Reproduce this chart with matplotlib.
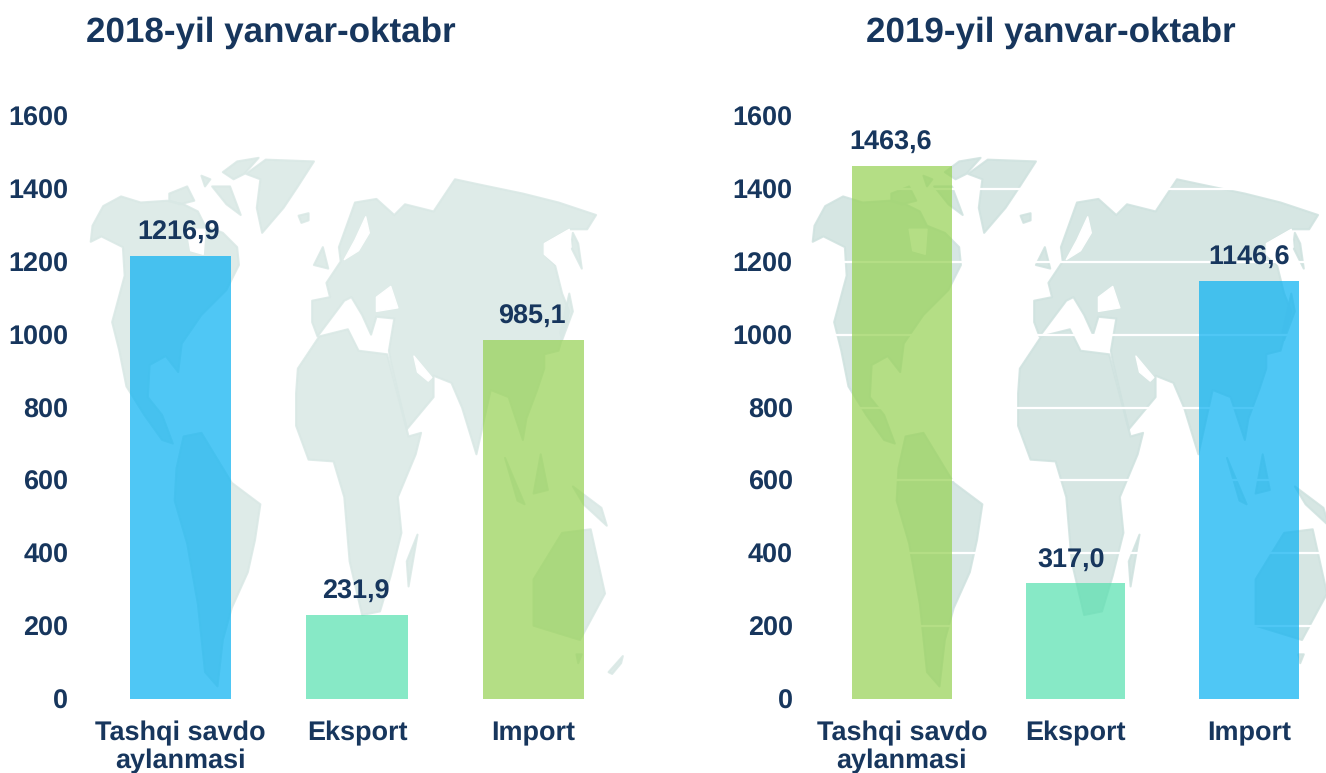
import matplotlib
matplotlib.use('Agg')
import matplotlib.pyplot as plt
from matplotlib.patches import Polygon

plt.rcParams['font.family'] = ['Liberation Sans', 'DejaVu Sans']
plt.rcParams['font.weight'] = 'bold'
plt.rcParams['text.hinting'] = 'no_hinting'
plt.rcParams['text.hinting_factor'] = 1

NAVY = '#17365d'
BLUE = '#05b0f2'
GREEN = '#95d151'
TEAL = '#55e0ae'

categories = ['Tashqi savdo\naylanmasi', 'Eksport', 'Import']
values2018 = [1216.9, 231.9, 985.1]
values2019 = [1463.6, 317.0, 1146.6]
colors2018 = [BLUE, TEAL, GREEN]
colors2019 = [GREEN, TEAL, BLUE]
yticks = [0, 200, 400, 600, 800, 1000, 1200, 1400, 1600]

# background map, rough outlines only (decoration, not data)
land = [
    [(30,285),(35,240),(65,185),(115,158),(170,175),(245,170),(290,180),(330,200),(350,240),(400,260),(440,300),(445,350),(410,420),(340,490),(285,570),(275,650),(240,605),(195,630),(190,720),(230,770),(260,850),(230,840),(180,770),(130,690),(110,590),(90,510),(125,380),(120,300),(60,270)],
    [(400,90),(440,60),(500,50),(460,95),(430,110)],
    [(370,130),(420,130),(450,210),(410,180)],
    [(250,150),(300,130),(320,170),(280,180),(250,170)],
    [(340,100),(365,110),(350,130)],
    [(465,95),(520,55),(655,60),(610,130),(570,190),(510,260),(495,190),(505,110)],
    [(612,212),(640,205),(640,225),(620,232)],
    [(290,830),(340,820),(425,960),(505,1020),(490,1120),(470,1210),(425,1310),(400,1400),(385,1530),(350,1490),(330,1300),(300,1130),(265,1010),(270,920)],
    [(725,300),(770,175),(830,165),(880,210),(910,180),(990,200),(1050,110),(1120,125),(1240,150),(1340,175),(1445,210),(1420,250),(1370,250),(1300,290),(1300,320),(1330,350),(1350,430),(1370,480),(1340,590),(1300,600),(1300,640),(1280,700),(1250,780),(1240,840),(1200,720),(1150,700),(1110,880),(1070,750),(1040,680),(990,660),(990,720),(915,810),(870,620),(865,590),(880,500),(830,495),(815,545),(790,490),(760,440),(740,450),(665,550),(650,510),(650,450),(700,440),(690,400),(730,340)],
    [(1380,260),(1395,290),(1405,360),(1375,300)],
    [(605,710),(610,640),(670,550),(750,530),(780,590),(860,600),(920,830),(955,820),(940,880),(890,1000),(900,1100),(870,1220),(840,1320),(790,1330),(755,1180),(740,1000),(710,900),(640,895),(605,800)],
    [(945,1105),(920,1250),(915,1180)],
    [(655,350),(680,300),(695,360)],
    [(1370,430),(1380,480),(1350,560),(1345,540)],
    [(1190,890),(1245,1020),(1225,1010)],
    [(1290,880),(1310,980),(1270,990)],
    [(1380,970),(1460,1030),(1475,1080),(1410,1020)],
    [(1270,1230),(1350,1100),(1430,1090),(1470,1270),(1400,1400),(1270,1360)],
    [(1390,1440),(1405,1440),(1395,1465)],
    [(1480,1490),(1520,1445),(1515,1465),(1490,1495)],
]
water = [
    [(830,440),(870,410),(890,470),(830,480)],
    [(300,250),(350,250),(345,320),(310,310)],
    [(800,215),(810,260),(780,310),(740,335),(770,280)],
    [(935,605),(985,665),(975,675),(945,650)],
    [(1300,290),(1370,250),(1375,300),(1335,350),(1300,320)],
]

W, H = 1326, 773


def pixelAxes(fig, left, right, top, bottom):
    return fig.add_axes([left / W, 1 - bottom / H, (right - left) / W, (bottom - top) / H])


def drawMap(bg, shift, color):
    for outline in land:
        pts = [(80 + x / 2.8 + shift, 140 + y / 2.8) for x, y in outline]
        bg.add_patch(Polygon(pts, closed=True, facecolor=color, edgecolor=color,
                             linewidth=1.5, joinstyle='round', alpha=0.85))
    for outline in water:
        pts = [(80 + x / 2.8 + shift, 140 + y / 2.8) for x, y in outline]
        bg.add_patch(Polygon(pts, closed=True, facecolor='white', edgecolor='white', linewidth=1, joinstyle='round'))


def plotPanel(ax, values, colors, title, titleX, shifts, grid, tickPad):
    ax.set_facecolor('none')
    bars = ax.bar(range(len(values)), values, width=0.575, color=colors, alpha=0.7, linewidth=0, zorder=3)
    ax.set_xlim(-0.5, 2.5)
    ax.set_ylim(0, 1600)
    ax.set_yticks(yticks)
    ax.set_xticks(range(len(categories)))
    ax.set_xticklabels(categories, linespacing=1.12)
    ax.tick_params(axis='y', length=0, pad=tickPad, labelsize=19.3, labelcolor=NAVY)
    ax.tick_params(axis='x', length=0, pad=16, labelsize=19.3, labelcolor=NAVY)
    for side in ax.spines.values():
        side.set_visible(False)
    if grid:
        ax.grid(axis='y', color='white', linewidth=1.6)
        ax.set_axisbelow(True)
    for bar, val, dx in zip(bars, values, shifts):
        ax.annotate(f'{val:.1f}'.replace('.', ','),
                    (bar.get_x() + bar.get_width() / 2, val),
                    xytext=(dx, 7.5), textcoords='offset points',
                    ha='center', va='bottom', fontsize=19.3, color=NAVY, fontweight='bold')
    ax.figure.text(titleX / W, 1 - 33 / H, title, ha='center', va='center',
                   fontsize=24.9, color=NAVY, fontweight='bold')


fig = plt.figure(figsize=(W / 100, H / 100), dpi=100, facecolor='white')

bg = fig.add_axes([0, 0, 1, 1], zorder=0)
bg.set_xlim(0, W)
bg.set_ylim(H, 0)
bg.axis('off')
drawMap(bg, 0, '#d9e8e5')
drawMap(bg, 722, '#cfe2df')

ax1 = pixelAxes(fig, 92, 622, 116, 699)
ax2 = pixelAxes(fig, 815, 1336, 116, 699)
ax1.set_zorder(1)
ax2.set_zorder(1)

plotPanel(ax1, values2018, colors2018, '2018-yil yanvar-oktabr', 270.5, [-1, -1, -1], False, 17)
plotPanel(ax2, values2019, colors2019, '2019-yil yanvar-oktabr', 1051, [-8, -3, 0], True, 16)

fig.savefig('out.png', dpi=100)
